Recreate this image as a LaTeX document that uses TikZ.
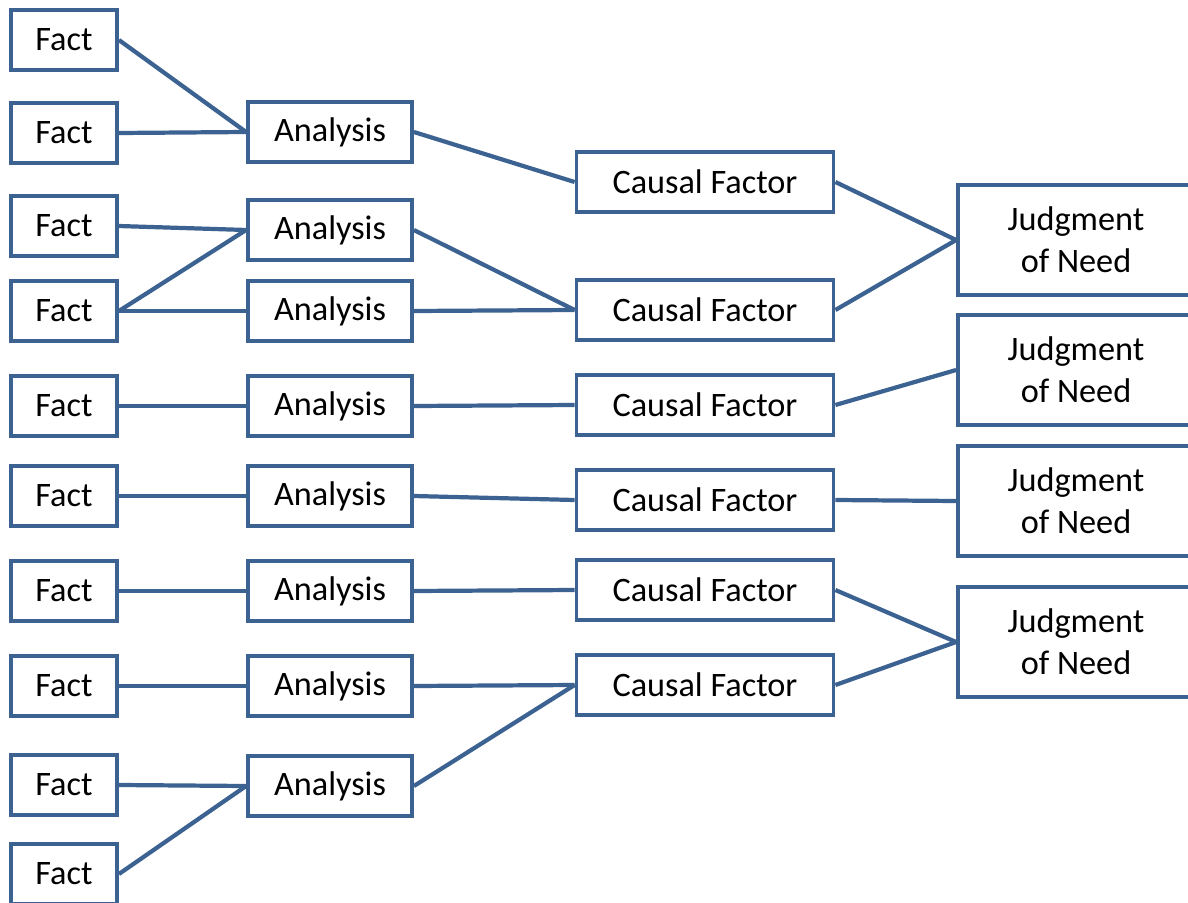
\documentclass[tikz,border=0pt]{standalone}
\usepackage{fontspec}
\setmainfont{Carlito}
\usepackage{tikz}
\usetikzlibrary{positioning}

\definecolor{boxblue}{RGB}{60,98,146}

\begin{document}
\begin{tikzpicture}[
  x=0.02cm, y=-0.02cm,
  every node/.style={font=\fontsize{19.5pt}{23.8pt}\selectfont, align=center},
  box/.style={draw=boxblue, line width=2.2pt, fill=white, minimum height=1.2cm, inner sep=2pt},
  fact/.style={box, minimum width=2.12cm},
  anl/.style={box, minimum width=3.28cm},
  cause/.style={box, minimum width=5.14cm},
  jon/.style={box, minimum width=4.72cm, minimum height=2.2cm},
  link/.style={draw=boxblue, line width=2.4pt}
]
\useasboundingbox (0,0) rectangle (1188,903);

% facts
\node[fact] (f1) at (64,40) {Fact};
\node[fact] (f2) at (64,133) {Fact};
\node[fact] (f3) at (64,226) {Fact};
\node[fact] (f4) at (64,311) {Fact};
\node[fact] (f5) at (64,406) {Fact};
\node[fact] (f6) at (64,496) {Fact};
\node[fact] (f7) at (64,591) {Fact};
\node[fact] (f8) at (64,686) {Fact};
\node[fact] (f9) at (64,785) {Fact};
\node[fact] (f10) at (64,874) {Fact};

% analyses
\node[anl] (a1) at (330,132) {Analysis};
\node[anl] (a2) at (330,230) {Analysis};
\node[anl] (a3) at (330,311) {Analysis};
\node[anl] (a4) at (330,406) {Analysis};
\node[anl] (a5) at (330,496) {Analysis};
\node[anl] (a6) at (330,591) {Analysis};
\node[anl] (a7) at (330,686) {Analysis};
\node[anl] (a8) at (330,786) {Analysis};

% causal factors
\node[cause] (c1) at (705,182) {Causal Factor};
\node[cause] (c2) at (705,310) {Causal Factor};
\node[cause] (c3) at (705,405) {Causal Factor};
\node[cause] (c4) at (705,500) {Causal Factor};
\node[cause] (c5) at (705,590) {Causal Factor};
\node[cause] (c6) at (705,685) {Causal Factor};

% judgments of need
\node[jon] (j1) at (1076,240) {Judgment\\of Need};
\node[jon] (j2) at (1076,370) {Judgment\\of Need};
\node[jon] (j3) at (1076,501) {Judgment\\of Need};
\node[jon] (j4) at (1076,642) {Judgment\\of Need};

\draw[link] (f1.east) -- (a1.west);
\draw[link] (f2.east) -- (a1.west);
\draw[link] (f3.east) -- (a2.west);
\draw[link] (f4.east) -- (a2.west);
\draw[link] (f4.east) -- (a3.west);
\draw[link] (f5.east) -- (a4.west);
\draw[link] (f6.east) -- (a5.west);
\draw[link] (f7.east) -- (a6.west);
\draw[link] (f8.east) -- (a7.west);
\draw[link] (f9.east) -- (a8.west);
\draw[link] (f10.east) -- (a8.west);

\draw[link] (a1.east) -- (c1.west);
\draw[link] (a2.east) -- (c2.west);
\draw[link] (a3.east) -- (c2.west);
\draw[link] (a4.east) -- (c3.west);
\draw[link] (a5.east) -- (c4.west);
\draw[link] (a6.east) -- (c5.west);
\draw[link] (a7.east) -- (c6.west);
\draw[link] (a8.east) -- (c6.west);

\draw[link] (c1.east) -- (j1.west);
\draw[link] (c2.east) -- (j1.west);
\draw[link] (c3.east) -- (j2.west);
\draw[link] (c4.east) -- (j3.west);
\draw[link] (c5.east) -- (j4.west);
\draw[link] (c6.east) -- (j4.west);
\end{tikzpicture}
\end{document}
